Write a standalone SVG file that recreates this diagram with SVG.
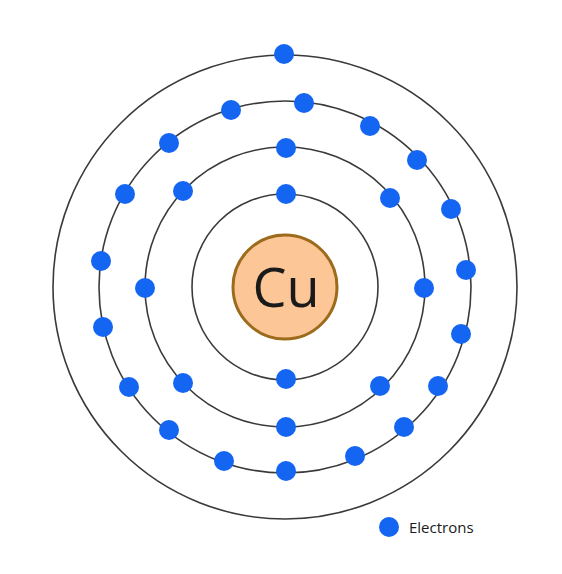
<svg xmlns="http://www.w3.org/2000/svg" width="562" height="574" viewBox="0 0 562 574">
<style>
.ring{fill:none;stroke:#3a3a3a;stroke-width:1.6}
.e{fill:#1466f2}
.t{font-family:"Open Sans","Noto Sans",sans-serif;fill:#1a1a1a}
</style>
<rect width="562" height="574" fill="#ffffff"/>
<g id="shells">
<circle class="ring" cx="285" cy="287" r="93"/>
<circle class="ring" cx="285" cy="287" r="140"/>
<circle class="ring" cx="285" cy="287" r="186"/>
<circle class="ring" cx="285" cy="287" r="232"/>
</g>
<g id="nucleus">
<circle cx="285" cy="287" r="52" fill="#fcc697" stroke="#9c6b1c" stroke-width="3"/>
<text class="t" x="286" y="307" font-size="54" text-anchor="middle">Cu</text>
</g>
<g id="shell1-electrons">
<circle class="e" cx="286" cy="194" r="10"/>
<circle class="e" cx="286" cy="379" r="10"/>
</g>
<g id="shell2-electrons">
<circle class="e" cx="286" cy="148" r="10"/>
<circle class="e" cx="390" cy="198" r="10"/>
<circle class="e" cx="424" cy="288" r="10"/>
<circle class="e" cx="380" cy="386" r="10"/>
<circle class="e" cx="286" cy="427" r="10"/>
<circle class="e" cx="183" cy="383" r="10"/>
<circle class="e" cx="145" cy="288" r="10"/>
<circle class="e" cx="183" cy="191" r="10"/>
</g>
<g id="shell3-electrons">
<circle class="e" cx="304" cy="103" r="10"/>
<circle class="e" cx="370" cy="126" r="10"/>
<circle class="e" cx="417" cy="160" r="10"/>
<circle class="e" cx="451" cy="209" r="10"/>
<circle class="e" cx="466" cy="270" r="10"/>
<circle class="e" cx="461" cy="334" r="10"/>
<circle class="e" cx="438" cy="386" r="10"/>
<circle class="e" cx="404" cy="427" r="10"/>
<circle class="e" cx="355" cy="456" r="10"/>
<circle class="e" cx="286" cy="471" r="10"/>
<circle class="e" cx="224" cy="461" r="10"/>
<circle class="e" cx="169" cy="430" r="10"/>
<circle class="e" cx="129" cy="387" r="10"/>
<circle class="e" cx="103" cy="327" r="10"/>
<circle class="e" cx="101" cy="261" r="10"/>
<circle class="e" cx="125" cy="194" r="10"/>
<circle class="e" cx="169" cy="143" r="10"/>
<circle class="e" cx="231" cy="110" r="10"/>
</g>
<g id="shell4-electrons">
<circle class="e" cx="284" cy="54" r="10"/>
</g>
<g id="legend">
<circle class="e" cx="389" cy="527" r="10"/>
<text class="t" x="409" y="533" font-size="15">Electrons</text>
</g>
</svg>
